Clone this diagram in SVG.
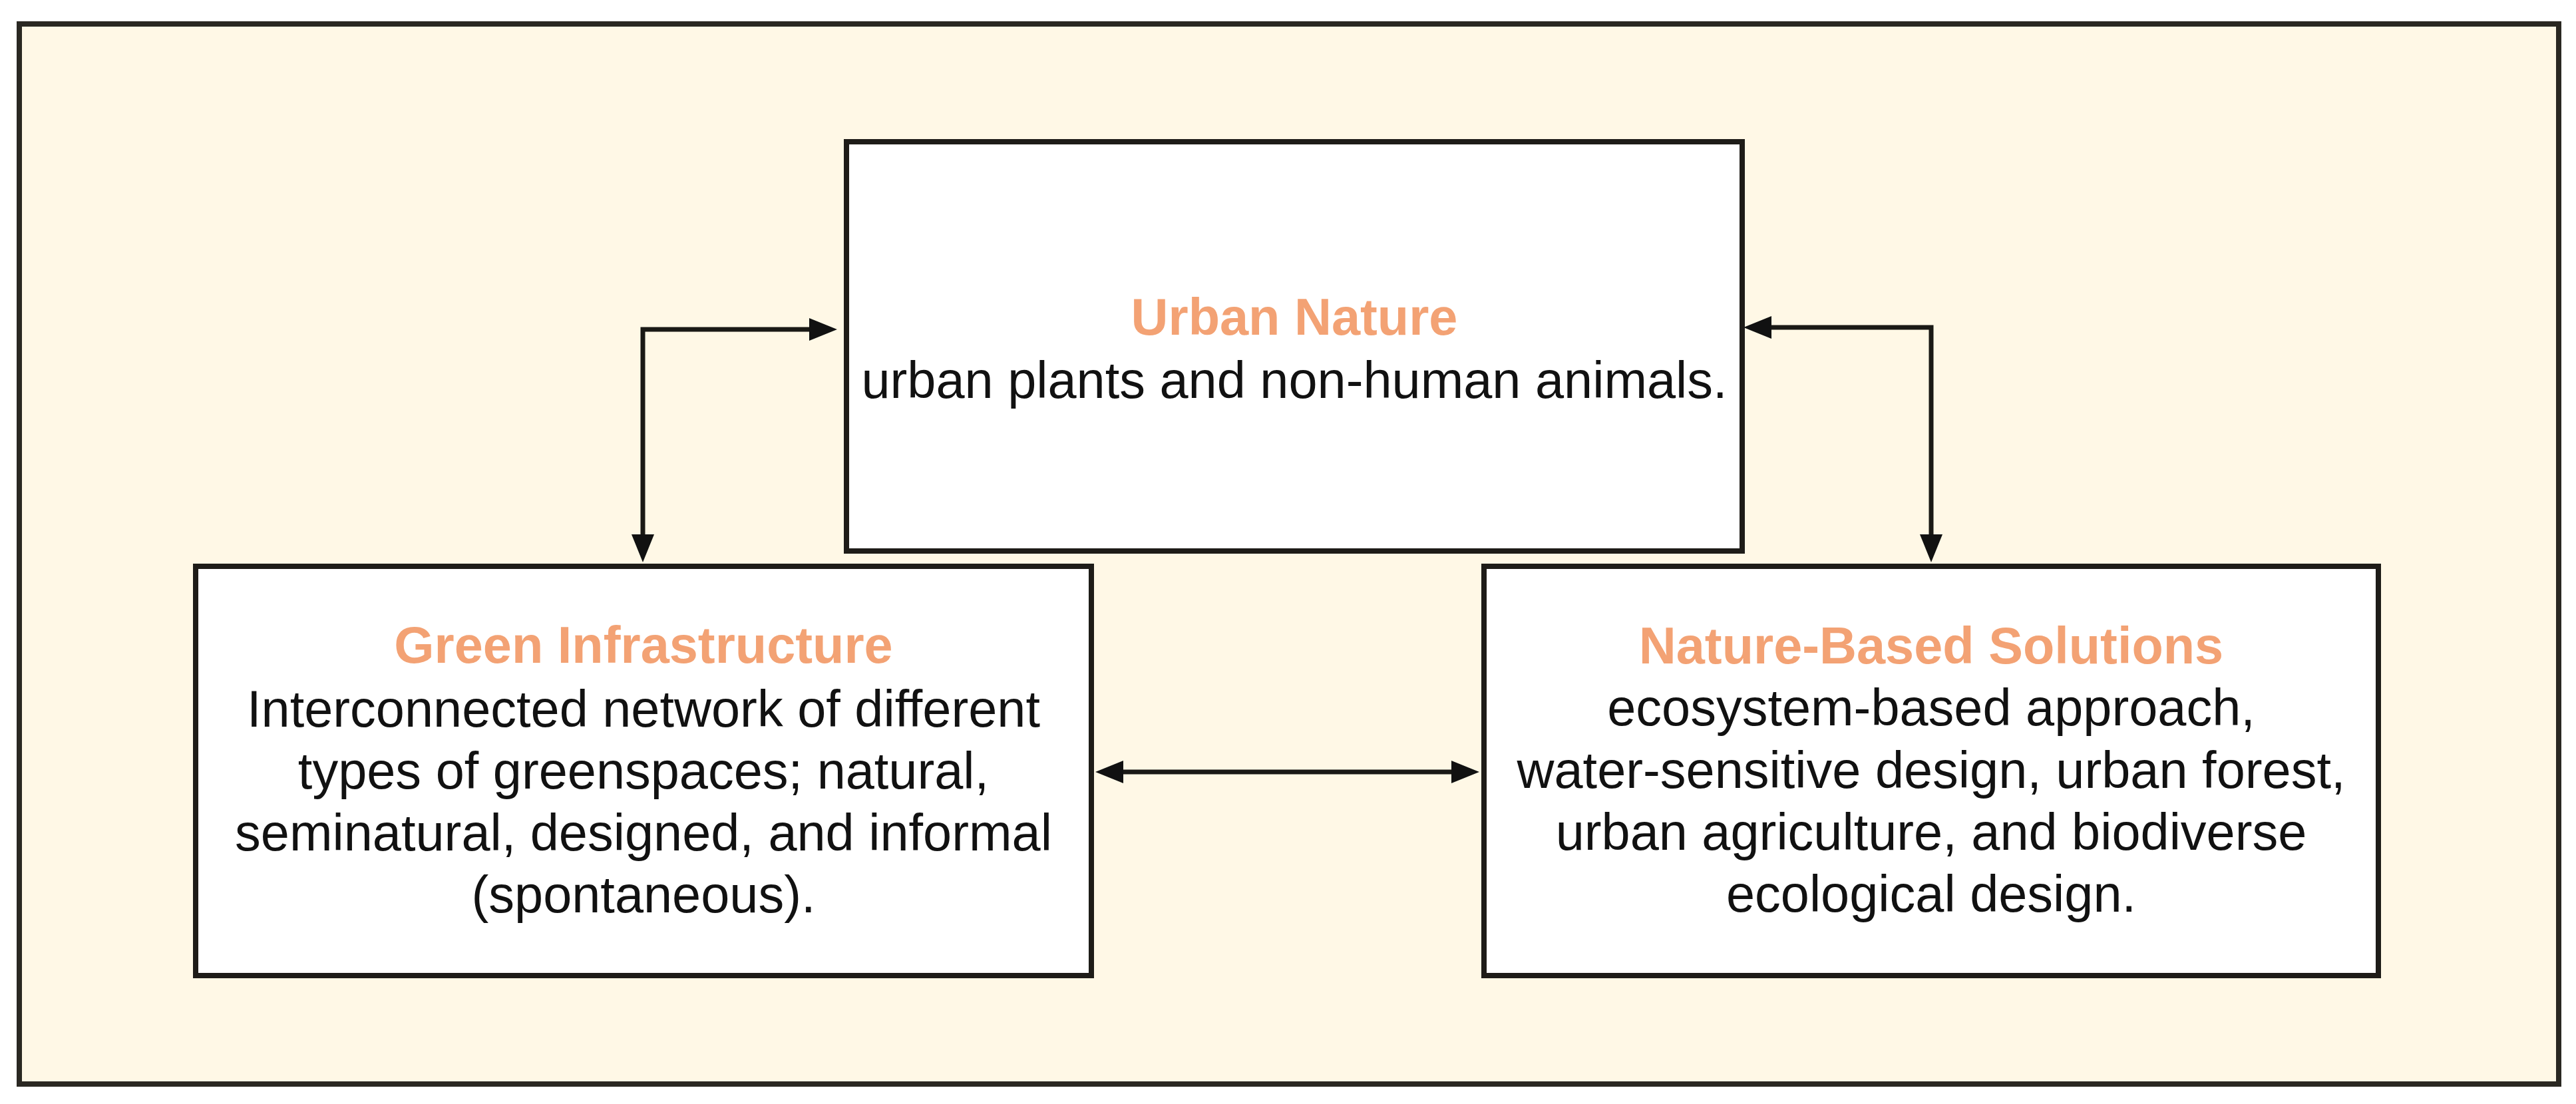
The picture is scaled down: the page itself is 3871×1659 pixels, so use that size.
<svg xmlns="http://www.w3.org/2000/svg" width="3871" height="1659" viewBox="0 0 3871 1659">
<style>
.frame{fill:#FFF8E6;stroke:#2a2822;stroke-width:8}
.box{fill:#FFFFFF;stroke:#1e1c18;stroke-width:8}
.title{font-family:"Liberation Sans",Arial,sans-serif;font-weight:bold;font-size:77.5px;fill:#F3A274;text-anchor:middle}
.body{font-family:"Liberation Sans",Arial,sans-serif;font-size:77.5px;fill:#111111;text-anchor:middle}
.conn{fill:none;stroke:#1a1915;stroke-width:7;marker-start:url(#arrow);marker-end:url(#arrow)}
</style>
<defs>
<marker id="arrow" markerUnits="userSpaceOnUse" markerWidth="42" markerHeight="34" viewBox="0 0 42 34" refX="10" refY="17" orient="auto-start-reverse">
<path d="M0,0 L42,17 L0,34 Z" fill="#111111"/>
</marker>
</defs>
<rect width="3871" height="1659" fill="#FFFFFF"/>
<rect id="frame" class="frame" x="29" y="36" width="3816" height="1593"/>
<g id="connectors">
<path class="conn" d="M966,813 V495 H1226"/>
<path class="conn" d="M2652,492 H2902 V813"/>
<path class="conn" d="M1678,1160 H2191"/>
</g>
<g id="urban-nature">
<rect class="box" x="1272" y="213" width="1346" height="615"/>
<text class="title" x="1945" y="503">Urban Nature</text>
<text class="body" x="1945" y="598">urban plants and non-human animals.</text>
</g>
<g id="green-infrastructure">
<rect class="box" x="294" y="851" width="1346" height="615"/>
<text class="title" x="967" y="996">Green Infrastructure</text>
<text class="body" x="967" y="1092">Interconnected network of different</text>
<text class="body" x="967" y="1185">types of greenspaces; natural,</text>
<text class="body" x="967" y="1278">seminatural, designed, and informal</text>
<text class="body" x="967" y="1371">(spontaneous).</text>
</g>
<g id="nature-based-solutions">
<rect class="box" x="2230" y="851" width="1344" height="615"/>
<text class="title" x="2902" y="997">Nature-Based Solutions</text>
<text class="body" x="2902" y="1090">ecosystem-based approach,</text>
<text class="body" x="2902" y="1184">water-sensitive design, urban forest,</text>
<text class="body" x="2902" y="1277">urban agriculture, and biodiverse</text>
<text class="body" x="2902" y="1370">ecological design.</text>
</g>
</svg>
